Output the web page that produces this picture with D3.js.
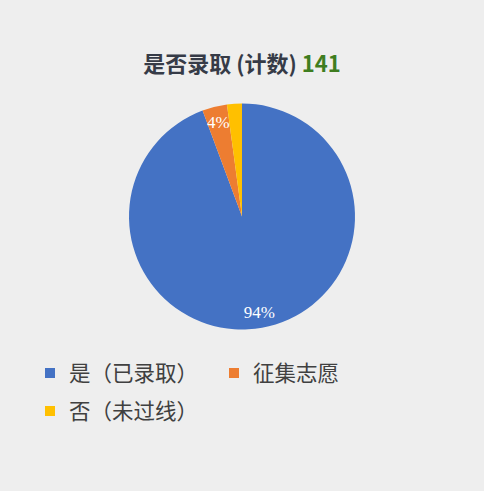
<!DOCTYPE html>
<html>
<head>
<meta charset="utf-8">
<script src="https://cdn.jsdelivr.net/npm/d3@7"></script>
<style>
	body { margin: 0; background: #eeeeee; }
	svg { display: block; }
</style>
</head>
<body>
<svg id="chart" width="484" height="491"></svg>
<script>
var categories = ["是（已录取）", "征集志愿", "否（未过线）"];
var counts = [133, 5, 3];
var colors = ["#4472c4", "#ed7d31", "#ffc000"];
var titleText = "是否录取 (计数)";

var total = d3.sum(counts);
var svg = d3.select("#chart");
var cx = 242, cy = 216.5, radius = 113;

svg.append("rect")
    .attr("width", 484)
    .attr("height", 491)
    .attr("fill", "#eeeeee");

var title = svg.append("text")
    .attr("x", 242)
    .attr("y", 72)
    .attr("text-anchor", "middle")
    .style("font-family", "'Noto Sans CJK SC', sans-serif")
    .style("font-size", "22px")
    .style("font-weight", "bold");
title.append("tspan").attr("fill", "#363b47").text(titleText + " ");
title.append("tspan").attr("fill", "#3f7d20").text(total);

var pie = d3.pie().sort(null).value(function (d) { return d; });
var arc = d3.arc().innerRadius(0).outerRadius(radius);
var labelArc = d3.arc().innerRadius(radius * 0.86).outerRadius(radius * 0.86);

var g = svg.append("g").attr("transform", "translate(" + cx + "," + cy + ")");
var slices = pie(counts);

g.selectAll("path.slice")
    .data(slices)
  .enter()
  .append("path").classed("slice", true)
    .attr("d", arc)
    .attr("fill", function (d, i) { return colors[i]; });

// only the two larger slices carry a label, as in the original
g.selectAll("text.pct")
    .data(slices.filter(function (d) { return d.value / total >= 0.03; }))
  .enter()
  .append("text").classed("pct", true)
    .attr("transform", function (d) { return "translate(" + labelArc.centroid(d) + ")"; })
    .attr("text-anchor", "middle")
    .attr("dy", "0.35em")
    .attr("fill", "#ffffff")
    .style("font-family", "'Liberation Serif', serif")
    .style("font-size", "17px")
    .text(function (d) { return Math.round(d.value / total * 100) + "%"; });

var legendPos = [[45, 373], [229, 373], [45, 411]];
var item = svg.selectAll("g.legend")
    .data(categories)
  .enter()
  .append("g").classed("legend", true)
    .attr("transform", function (d, i) { return "translate(" + legendPos[i][0] + "," + legendPos[i][1] + ")"; });

item.append("rect")
    .attr("x", 0)
    .attr("y", -5)
    .attr("width", 10)
    .attr("height", 10)
    .attr("fill", function (d, i) { return colors[i]; });

item.append("text")
    .attr("x", 24)
    .attr("dy", "0.36em")
    .attr("fill", "#404040")
    .style("font-family", "'Noto Sans CJK SC', sans-serif")
    .style("font-size", "21.5px")
    .text(function (d) { return d; });
</script>
</body>
</html>
